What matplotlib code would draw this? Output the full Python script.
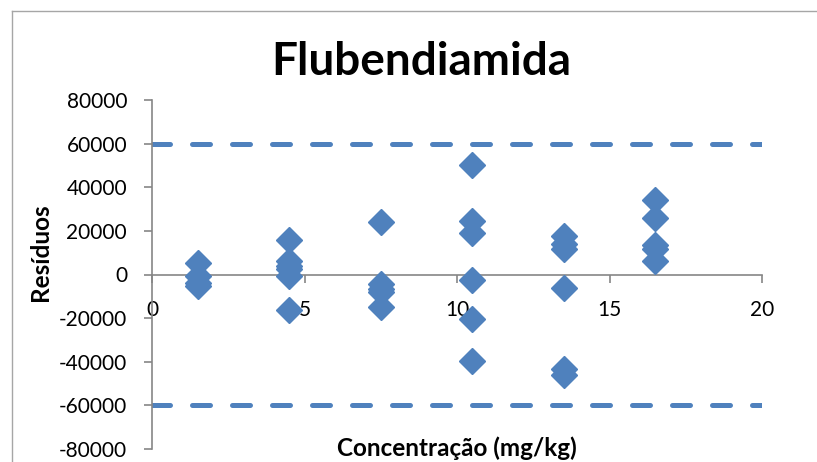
import numpy as np
import matplotlib.pyplot as plt
from matplotlib.lines import Line2D

plt.rcParams['font.family'] = ['Lato', 'DejaVu Sans']
plt.rcParams['axes.unicode_minus'] = False

# concentracoes (mg/kg) e residuos
conc = [1.5, 1.5, 1.5, 1.5,
        4.5, 4.5, 4.5, 4.5, 4.5, 4.5,
        7.5, 7.5, 7.5, 7.5, 7.5,
        10.5, 10.5, 10.5, 10.5, 10.5, 10.5,
        13.5, 13.5, 13.5, 13.5, 13.5, 13.5,
        16.5, 16.5, 16.5, 16.5, 16.5]
residuos = [5500, -500, -3800, -5200,
            15800, 6200, 4000, 2400, -800, -16200,
            24000, -4500, -6500, -8000, -14800,
            50000, 24300, 18800, -2300, -20500, -39800,
            17600, 13800, 11600, -6000, -43200, -46200,
            34000, 26000, 13600, 11800, 6200]
limite = [-60000, 60000]
x_lim = [0, 20]

cor = '#4F81BD'
cinza = '#868686'

fig = plt.figure(figsize=(8.17, 4.62), dpi=100)
W, H = 817, 462
ax = fig.add_axes([152 / W, (H - 449) / H, (762 - 152) / W, (449 - 100) / H])

for lim in limite:
    ax.plot(x_lim, [lim, lim], color=cor, lw=3.6, dashes=(3.6, 4.4),
            solid_capstyle='round', dash_capstyle='round', zorder=2)

ax.plot(conc, residuos, 'D', color=cor, ms=13.5, mec=cor, zorder=3)

ax.set_xlim(0, 20)
ax.set_ylim(-80000, 80000)
ax.set_xticks(np.arange(0, 21, 5))
ax.set_yticks(np.arange(-80000, 80001, 20000))
ax.spines['top'].set_visible(False)
ax.spines['right'].set_visible(False)
ax.spines['bottom'].set_position(('data', 0))
for s in ['left', 'bottom']:
    ax.spines[s].set_color(cinza)
    ax.spines[s].set_linewidth(1.2)
ax.tick_params(axis='both', colors=cinza, labelcolor='black', labelsize=15,
               length=6, width=1.2)
ax.tick_params(axis='y', pad=12)
ax.tick_params(axis='x', pad=12)

fig.text(421 / W, 1 - 62 / H, 'Flubendiamida', ha='center', va='center',
         fontsize=33, fontweight='bold')
fig.text(41 / W, 1 - 252 / H, 'Resíduos', ha='center', va='center',
         rotation=90, fontsize=17.5, fontweight='bold')
fig.text(457 / W, 1 - 448 / H, 'Concentração (mg/kg)', ha='center',
         va='center', fontsize=17.5, fontweight='bold')

# moldura da area do grafico
fig.add_artist(Line2D([12 / W, 12 / W], [0, 1 - 11 / H], color='#a6a6a6', lw=1))
fig.add_artist(Line2D([12 / W, 1], [1 - 11 / H, 1 - 11 / H], color='#a6a6a6', lw=1))

fig.savefig('out.png', dpi=100)
